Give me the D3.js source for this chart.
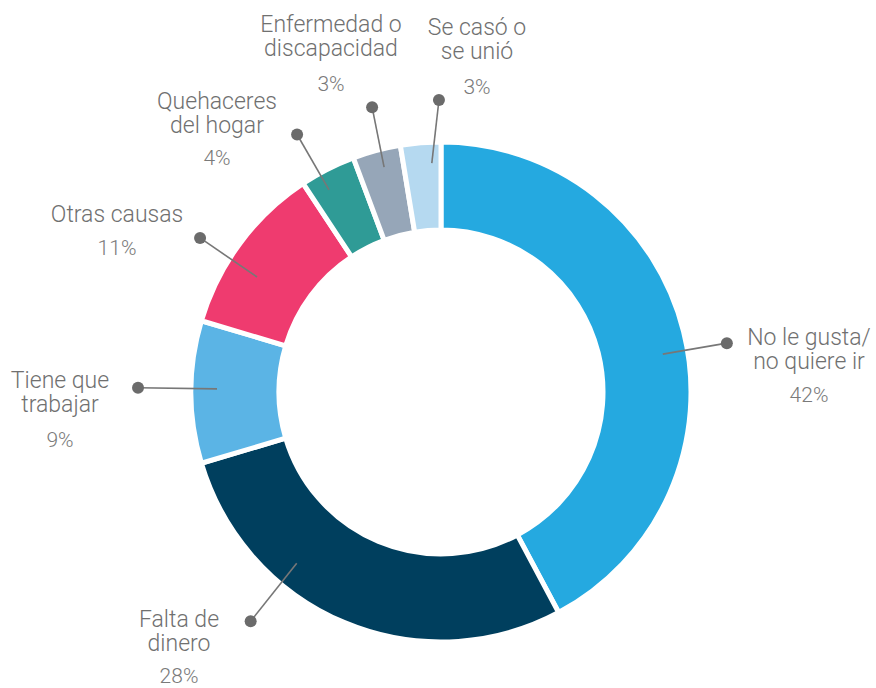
<!DOCTYPE html>
<html>
<head>
<meta charset="utf-8">
<script src="https://cdn.jsdelivr.net/npm/d3@7"></script>
<style>
  html, body { margin: 0; padding: 0; background: #fff; }
  svg { display: block; }
</style>
</head>
<body>
<svg id="chart" width="876" height="688"></svg>
<script>
// ---- data ----
const categories = [
  ["No le gusta/", "no quiere ir"],
  ["Falta de", "dinero"],
  ["Tiene que", "trabajar"],
  ["Otras causas"],
  ["Quehaceres", "del hogar"],
  ["Enfermedad o", "discapacidad"],
  ["Se casó o", "se unió"]
];
const values = [42.2, 28.2, 9.2, 11.1, 3.6, 3.1, 2.6];
const percentLabels = ["42%", "28%", "9%", "11%", "4%", "3%", "3%"];
const colors = ["#25a9e0", "#003f5e", "#5bb4e5", "#ef3b6f", "#2f9b96", "#96a6b8", "#b5d9f0"];

// ---- layout (leader lines in polar coords: angle deg, radius) ----
const leaderStart = [[80.3, 225], [220.1, 224], [270.8, 224], [302, 217], [331, 231], [345.8, 232], [357.7, 229]];
const leaderEnd   = [[80.3, 290], [219.7, 298], [270.8, 303], [302.6, 286], [330.8, 295], [346.4, 293], [359.6, 292]];
// label anchor: center x, first baseline, percent baseline
const labelPos = [[809, 345, 402], [179, 627, 683], [60, 388, 447], [117, 222, 255], [217, 109, 165], [331, 32, 91], [477, 35, 94]];
const lineGap = 24;

const cx = 441, cy = 392;
const svg = d3.select("#chart");
const g = svg.append("g").attr("transform", `translate(${cx},${cy})`);

const pie = d3.pie().sort(null).value(d => d)(values);
const arc = d3.arc().innerRadius(162).outerRadius(250);

g.selectAll("path.slice")
  .data(pie)
  .join("path")
  .attr("class", "slice")
  .attr("d", arc)
  .attr("fill", (d, i) => colors[i])
  .attr("stroke", "#fff")
  .attr("stroke-width", 5)
  .attr("stroke-linejoin", "miter");

const polar = ([a, r]) => {
  const t = a * Math.PI / 180;
  return [r * Math.sin(t), -r * Math.cos(t)];
};

const leaders = g.append("g");
values.forEach((v, i) => {
  const s = polar(leaderStart[i]);
  const e = polar(leaderEnd[i]);
  leaders.append("line")
    .attr("x1", s[0]).attr("y1", s[1])
    .attr("x2", e[0]).attr("y2", e[1])
    .attr("stroke", "#777")
    .attr("stroke-width", 1.6);
  leaders.append("circle")
    .attr("cx", e[0]).attr("cy", e[1])
    .attr("r", 6)
    .attr("fill", "#6b6b6b");
});

const labels = svg.append("g")
  .attr("font-family", "Roboto, 'Open Sans', sans-serif")
  .attr("font-weight", 300)
  .attr("font-size", 23)
  .attr("text-anchor", "middle");

categories.forEach((lines, i) => {
  const [x, y, py] = labelPos[i];
  const t = labels.append("text")
    .attr("x", x).attr("y", y)
    .attr("fill", "#707070");
  lines.forEach((ln, k) => {
    t.append("tspan")
      .attr("x", x)
      .attr("dy", k === 0 ? 0 : lineGap)
      .text(ln);
  });
  labels.append("text")
    .attr("x", x).attr("y", py)
    .attr("fill", "#7a7a7a")
    .attr("font-size", 21)
    .text(percentLabels[i]);
});
</script>
</body>
</html>
